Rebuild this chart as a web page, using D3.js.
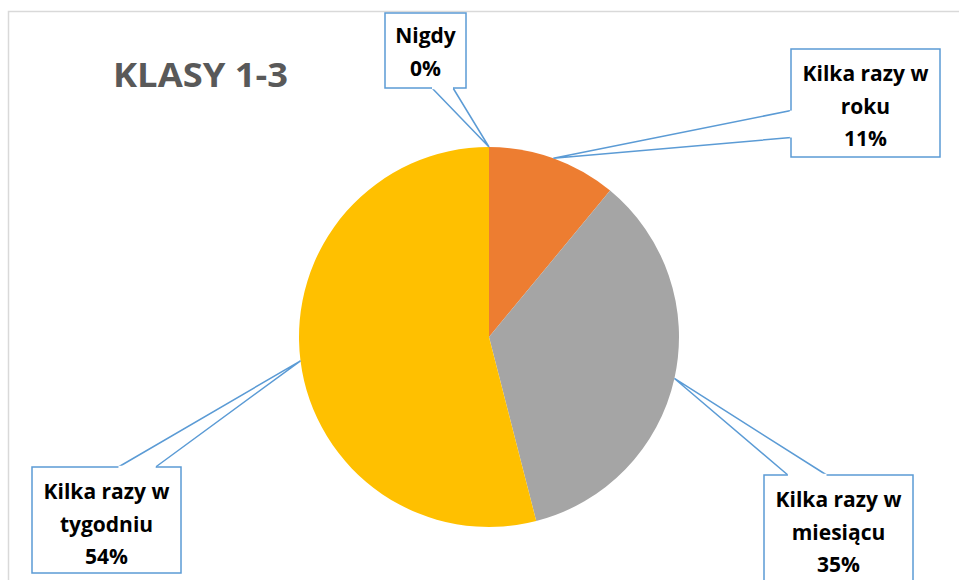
<!DOCTYPE html>
<html>
<head>
<meta charset="utf-8">
<script src="https://cdn.jsdelivr.net/npm/d3@7/dist/d3.min.js"></script>
<style>
  body { margin: 0; background: #fff; }
  svg { display: block; }
</style>
</head>
<body>
<div id="chart"></div>
<script>
// chart data
var categories = ['Nigdy', 'Kilka razy w roku', 'Kilka razy w miesiącu', 'Kilka razy w tygodniu'];
var values = [0, 11, 35, 54];
var labelLines = [['Nigdy'], ['Kilka razy w', 'roku'], ['Kilka razy w', 'miesiącu'], ['Kilka razy w', 'tygodniu']];
var colors = ['#4472C4', '#ED7D31', '#A5A5A5', '#FFC000'];
var title = 'KLASY 1-3';

// callout boxes (x, y, w, h) and where the pointer leaves the box
var boxes = [
  {x: 385, y: 13, w: 81, h: 75, edge: 'bottom', f0: 0.58, f1: 0.84},
  {x: 791, y: 49, w: 149, h: 108, edge: 'left', f0: 0.57, f1: 0.82},
  {x: 764, y: 475, w: 149, h: 108, edge: 'top', f0: 0.16, f1: 0.42},
  {x: 32, y: 467, w: 149, h: 106, edge: 'top', f0: 0.58, f1: 0.83}
];

var width = 959, height = 580;
var cx = 489, cy = 337, radius = 190;

var svg = d3.select('#chart').append('svg')
  .attr('width', width)
  .attr('height', height);

// chart area border
svg.append('path')
  .attr('d', `M8.5,${height} V11.5 H${width}`)
  .attr('fill', 'none')
  .attr('stroke', '#D9D9D9')
  .attr('stroke-width', 1.5);

svg.append('text')
  .attr('x', 113)
  .attr('y', 87)
  .attr('fill', '#595959')
  .style('font-family', 'Open Sans, sans-serif')
  .style('font-weight', 'bold')
  .style('font-size', '34px')
  .attr('textLength', 175)
  .attr('lengthAdjust', 'spacingAndGlyphs')
  .text(title);

var pie = d3.pie().sort(null).value(d => d);
var arcs = pie(values);
var arc = d3.arc().innerRadius(0).outerRadius(radius);

var pieGroup = svg.append('g')
  .attr('transform', `translate(${cx},${cy})`);

pieGroup.selectAll('path.slice')
  .data(arcs)
  .enter().append('path')
  .attr('class', 'slice')
  .attr('fill', (d, i) => colors[i])
  .attr('d', arc);

// callouts
arcs.forEach(function (d, i) {
  var b = boxes[i];
  var mid = (d.startAngle + d.endAngle) / 2;
  var tx = cx + radius * Math.sin(mid);
  var ty = cy - radius * Math.cos(mid);
  var p0, p1;
  if (b.edge === 'bottom') {
    p0 = [b.x + b.w * b.f0, b.y + b.h];
    p1 = [b.x + b.w * b.f1, b.y + b.h];
  } else if (b.edge === 'top') {
    p0 = [b.x + b.w * b.f0, b.y];
    p1 = [b.x + b.w * b.f1, b.y];
  } else {
    p0 = [b.x, b.y + b.h * b.f0];
    p1 = [b.x, b.y + b.h * b.f1];
  }

  var g = svg.append('g');
  g.append('rect')
    .attr('x', b.x)
    .attr('y', b.y)
    .attr('width', b.w)
    .attr('height', b.h)
    .attr('fill', '#fff')
    .attr('stroke', '#5B9BD5')
    .attr('stroke-width', 1.5);

  // pointer, then wipe the box edge between its base points
  g.append('path')
    .attr('d', d3.line()([p0, [tx, ty], p1]))
    .attr('fill', '#fff')
    .attr('stroke', '#5B9BD5')
    .attr('stroke-width', 1.5)
    .attr('stroke-linejoin', 'miter');
  g.append('line')
    .attr('x1', p0[0]).attr('y1', p0[1])
    .attr('x2', p1[0]).attr('y2', p1[1])
    .attr('stroke', '#fff')
    .attr('stroke-width', 2.5);

  var lines = labelLines[i].concat([d3.format('.0f')(values[i]) + '%']);
  var text = g.append('text')
    .attr('text-anchor', 'middle')
    .attr('fill', '#000')
    .style('font-family', 'Open Sans, sans-serif')
    .style('font-weight', 'bold')
    .style('font-size', '21px');
  lines.forEach(function (l, j) {
    text.append('tspan')
      .attr('x', b.x + b.w / 2)
      .attr('y', b.y + (b.edge === 'bottom' ? 30 : 32) + j * 32.5)
      .text(l);
  });
});
</script>
</body>
</html>
